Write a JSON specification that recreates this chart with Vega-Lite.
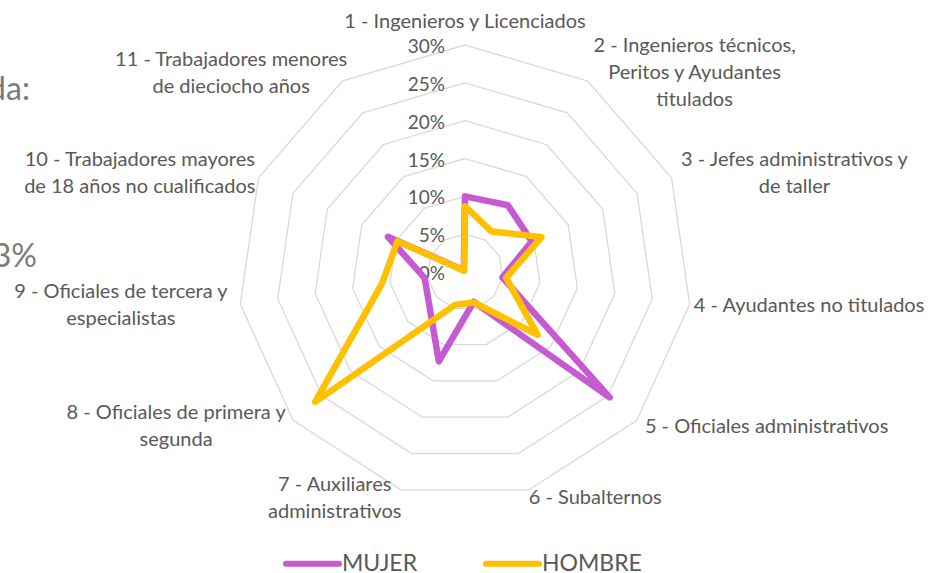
{
  "$schema": "https://vega.github.io/schema/vega-lite/v6.json",
  "width": 948,
  "height": 573,
  "autosize": {"type": "none"},
  "padding": 0,
  "background": "white",
  "config": {"view": {"stroke": null}, "font": "Lato"},
  "datasets": {
    "series": [
      {"serie": "MUJER", "cat": 1, "v": 10.0},
      {"serie": "MUJER", "cat": 2, "v": 10.5},
      {"serie": "MUJER", "cat": 3, "v": 9.7},
      {"serie": "MUJER", "cat": 4, "v": 5.0},
      {"serie": "MUJER", "cat": 5, "v": 25.3},
      {"serie": "MUJER", "cat": 6, "v": 4.1},
      {"serie": "MUJER", "cat": 7, "v": 12.3},
      {"serie": "MUJER", "cat": 8, "v": 6.3},
      {"serie": "MUJER", "cat": 9, "v": 5.4},
      {"serie": "MUJER", "cat": 10, "v": 11.2},
      {"serie": "MUJER", "cat": 11, "v": 0.3},
      {"serie": "HOMBRE", "cat": 1, "v": 8.7},
      {"serie": "HOMBRE", "cat": 2, "v": 6.4},
      {"serie": "HOMBRE", "cat": 3, "v": 11.1},
      {"serie": "HOMBRE", "cat": 4, "v": 5.5},
      {"serie": "HOMBRE", "cat": 5, "v": 12.7},
      {"serie": "HOMBRE", "cat": 6, "v": 4.2},
      {"serie": "HOMBRE", "cat": 7, "v": 4.5},
      {"serie": "HOMBRE", "cat": 8, "v": 26.2},
      {"serie": "HOMBRE", "cat": 9, "v": 11.1},
      {"serie": "HOMBRE", "cat": 10, "v": 9.8},
      {"serie": "HOMBRE", "cat": 11, "v": 0.2}
    ],
    "rings": [
      {"ring": 5, "k": [0, 1, 2, 3, 4, 5, 6, 7, 8, 9, 10]},
      {"ring": 10, "k": [0, 1, 2, 3, 4, 5, 6, 7, 8, 9, 10]},
      {"ring": 15, "k": [0, 1, 2, 3, 4, 5, 6, 7, 8, 9, 10]},
      {"ring": 20, "k": [0, 1, 2, 3, 4, 5, 6, 7, 8, 9, 10]},
      {"ring": 25, "k": [0, 1, 2, 3, 4, 5, 6, 7, 8, 9, 10]},
      {"ring": 30, "k": [0, 1, 2, 3, 4, 5, 6, 7, 8, 9, 10]}
    ],
    "ticks": [
      {"level": 0}, {"level": 5}, {"level": 10}, {"level": 15},
      {"level": 20}, {"level": 25}, {"level": 30}
    ],
    "cats": [
      {"cat": 1, "lines": ["1 - Ingenieros y Licenciados"]},
      {"cat": 2, "lines": ["2 - Ingenieros técnicos,", "Peritos y Ayudantes", "titulados"]},
      {"cat": 3, "lines": ["3 - Jefes administrativos y", "de taller"]},
      {"cat": 4, "lines": ["4 - Ayudantes no titulados"]},
      {"cat": 5, "lines": ["5 - Oficiales administrativos"]},
      {"cat": 6, "lines": ["6 - Subalternos"]},
      {"cat": 7, "lines": ["7 - Auxiliares", "administrativos"]},
      {"cat": 8, "lines": ["8 - Oficiales de primera y", "segunda"]},
      {"cat": 9, "lines": ["9 - Oficiales de tercera y", "especialistas"]},
      {"cat": 10, "lines": ["10 - Trabajadores mayores", "de 18 años no cualificados"]},
      {"cat": 11, "lines": ["11 - Trabajadores menores", "de dieciocho años"]}
    ],
    "notes": [{"note": "da:"}, {"note": "3%"}]
  },
  "layer": [
    {
      "data": {"name": "rings"},
      "transform": [
        {"flatten": ["k"]},
        {"calculate": "datum.k * 2 * PI / 11", "as": "a"},
        {"calculate": "datum.ring * sin(datum.a)", "as": "px"},
        {"calculate": "datum.ring * cos(datum.a)", "as": "py"}
      ],
      "mark": {"type": "line", "interpolate": "linear-closed", "stroke": "#d9d9d9", "strokeWidth": 1.3},
      "encoding": {
        "x": {"field": "px", "type": "quantitative", "scale": {"domain": [-61.45, 63.83], "nice": false, "zero": false}, "axis": null},
        "y": {"field": "py", "type": "quantitative", "scale": {"domain": [-39.78, 35.95], "nice": false, "zero": false}, "axis": null},
        "detail": {"field": "ring", "type": "nominal"},
        "order": {"field": "k", "type": "quantitative"}
      }
    },
    {
      "data": {"name": "ticks"},
      "transform": [
        {"calculate": "datum.level + '%'", "as": "lab"},
        {"calculate": "0", "as": "px"}
      ],
      "mark": {"type": "text", "align": "right", "baseline": "middle", "dx": -20, "dy": 2, "fontSize": 19, "fill": "#595959"},
      "encoding": {
        "x": {"field": "px", "type": "quantitative", "scale": {"domain": [-61.45, 63.83], "nice": false, "zero": false}, "axis": null},
        "y": {"field": "level", "type": "quantitative", "scale": {"domain": [-39.78, 35.95], "nice": false, "zero": false}, "axis": null},
        "text": {"field": "lab"}
      }
    },
    {
      "data": {"name": "cats"},
      "transform": [
        {"calculate": "(datum.cat - 1) * 2 * PI / 11", "as": "a"},
        {"calculate": "sin(datum.a)", "as": "sx"},
        {"calculate": "max(length(datum.lines[0]), datum.lines.length > 1 ? length(datum.lines[1]) : 0, datum.lines.length > 2 ? length(datum.lines[2]) : 0)", "as": "len"},
        {"calculate": "datum.len * 4.25 / 7.567", "as": "hw"},
        {"calculate": "datum.sx > 0.05 ? 1 : (datum.sx < -0.05 ? -1 : 0)", "as": "sg"},
        {"calculate": "31.19 * datum.sx + datum.sg * datum.hw", "as": "lx"},
        {"calculate": "31.19 * cos(datum.a) + (datum.sg == 0 ? 1.85 : 0) + (datum.lines.length - 1) * 13.5 / 7.567", "as": "ly"}
      ],
      "mark": {"type": "text", "align": "center", "baseline": "middle", "lineHeight": 27, "fontSize": 20, "fill": "#595959"},
      "encoding": {
        "x": {"field": "lx", "type": "quantitative", "scale": {"domain": [-61.45, 63.83], "nice": false, "zero": false}, "axis": null},
        "y": {"field": "ly", "type": "quantitative", "scale": {"domain": [-39.78, 35.95], "nice": false, "zero": false}, "axis": null},
        "text": {"field": "lines"}
      }
    },
    {
      "data": {"name": "series"},
      "transform": [
        {"filter": "datum.serie == 'MUJER'"},
        {"calculate": "(datum.cat - 1) * 2 * PI / 11", "as": "a"},
        {"calculate": "datum.v * sin(datum.a)", "as": "px"},
        {"calculate": "datum.v * cos(datum.a)", "as": "py"}
      ],
      "mark": {"type": "line", "interpolate": "linear-closed", "strokeWidth": 6.5, "strokeCap": "round", "strokeJoin": "round"},
      "encoding": {
        "x": {"field": "px", "type": "quantitative", "scale": {"domain": [-61.45, 63.83], "nice": false, "zero": false}, "axis": null},
        "y": {"field": "py", "type": "quantitative", "scale": {"domain": [-39.78, 35.95], "nice": false, "zero": false}, "axis": null},
        "order": {"field": "cat", "type": "quantitative"},
        "color": {
          "field": "serie", "type": "nominal",
          "scale": {"domain": ["MUJER", "HOMBRE"], "range": ["#C55AD2", "#FFC000"]},
          "legend": {
            "orient": "none", "legendX": 283, "legendY": 534, "direction": "horizontal", "title": null,
            "symbolType": "stroke", "symbolSize": 2809, "symbolStrokeWidth": 6,
            "labelFontSize": 23, "labelColor": "#595959", "labelFont": "Lato",
            "columnPadding": 56, "labelOffset": 0, "padding": 0, "symbolOffset": 0,
            "encode": {"symbols": {"update": {"strokeCap": {"value": "round"}}}}
          }
        }
      }
    },
    {
      "data": {"name": "series"},
      "transform": [
        {"filter": "datum.serie == 'HOMBRE'"},
        {"calculate": "(datum.cat - 1) * 2 * PI / 11", "as": "a"},
        {"calculate": "datum.v * sin(datum.a)", "as": "px"},
        {"calculate": "datum.v * cos(datum.a)", "as": "py"}
      ],
      "mark": {"type": "line", "interpolate": "linear-closed", "strokeWidth": 6.5, "strokeCap": "round", "strokeJoin": "round"},
      "encoding": {
        "x": {"field": "px", "type": "quantitative", "scale": {"domain": [-61.45, 63.83], "nice": false, "zero": false}, "axis": null},
        "y": {"field": "py", "type": "quantitative", "scale": {"domain": [-39.78, 35.95], "nice": false, "zero": false}, "axis": null},
        "order": {"field": "cat", "type": "quantitative"},
        "color": {"field": "serie", "type": "nominal", "scale": {"domain": ["MUJER", "HOMBRE"], "range": ["#C55AD2", "#FFC000"]}}
      }
    },
    {
      "data": {"name": "notes"},
      "transform": [{"filter": "datum.note == 'da:'"}],
      "mark": {"type": "text", "align": "right", "baseline": "middle", "fontSize": 32, "fill": "#7a7a7a"},
      "encoding": {
        "x": {"datum": -57.5, "type": "quantitative", "scale": {"domain": [-61.45, 63.83], "nice": false, "zero": false}, "axis": null},
        "y": {"datum": 24.05, "type": "quantitative", "scale": {"domain": [-39.78, 35.95], "nice": false, "zero": false}, "axis": null},
        "text": {"field": "note"}
      }
    },
    {
      "data": {"name": "notes"},
      "transform": [{"filter": "datum.note == '3%'"}],
      "mark": {"type": "text", "align": "right", "baseline": "middle", "fontSize": 32, "fill": "#7a7a7a"},
      "encoding": {
        "x": {"datum": -56.56, "type": "quantitative", "scale": {"domain": [-61.45, 63.83], "nice": false, "zero": false}, "axis": null},
        "y": {"datum": 1.98, "type": "quantitative", "scale": {"domain": [-39.78, 35.95], "nice": false, "zero": false}, "axis": null},
        "text": {"field": "note"}
      }
    }
  ]
}
